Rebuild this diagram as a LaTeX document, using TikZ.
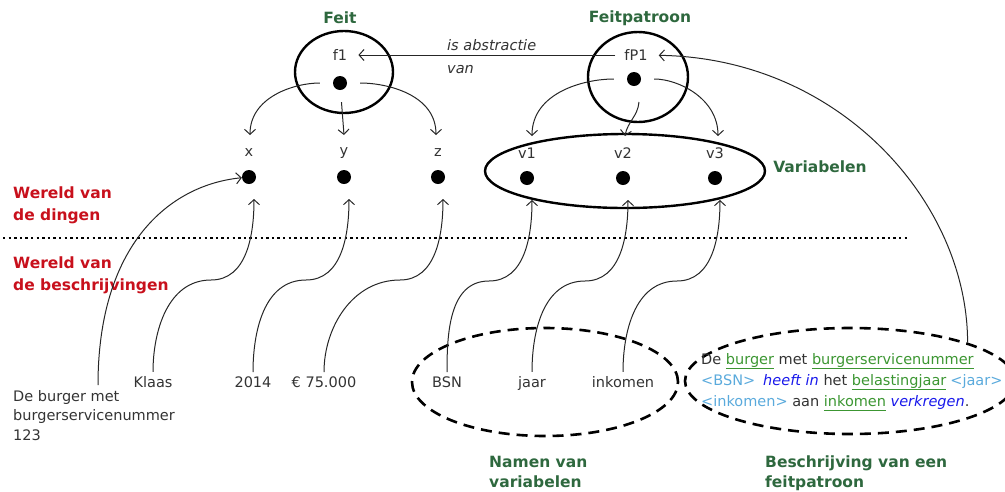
\documentclass[tikz,border=0pt]{standalone}
\usepackage{fontspec}
\setmainfont{DejaVu Sans}
\usetikzlibrary{calc}
\usetikzlibrary{arrows.meta}
\usetikzlibrary{shapes.geometric}
\definecolor{labelgreen}{RGB}{46,104,62}
\definecolor{worldred}{RGB}{200,16,28}
\definecolor{txtgray}{RGB}{51,51,51}
\definecolor{termgreen}{RGB}{60,150,50}
\definecolor{tagblue}{RGB}{90,170,220}
\definecolor{verbblue}{RGB}{25,25,235}
\tikzset{>={Straight Barb[length=5pt,width=11pt]}}
\tikzstyle{dot}=[circle,fill=black,inner sep=0pt,minimum size=14pt]
\tikzstyle{thick ell}=[ellipse,draw,line width=2.4pt,inner sep=0pt]
\tikzstyle{dash ell}=[ellipse,draw,line width=2.6pt,dash pattern=on 11pt off 7pt,inner sep=0pt]
\tikzstyle{plain}=[text=txtgray,font=\fontsize{14.5}{19.5}\selectfont,inner sep=1pt]
\tikzstyle{head}=[text=labelgreen,font=\fontsize{15.5}{19.5}\selectfont\bfseries,align=left,inner sep=1pt]
\tikzstyle{world}=[text=worldred,font=\fontsize{15.5}{22}\selectfont\bfseries,align=left,inner sep=1pt,anchor=north west]
\tikzstyle{link}=[->,line width=1pt,draw=black!85]
\newcommand{\term}[1]{\textcolor{termgreen}{\underline{#1\vphantom{g}}}}
\newcommand{\vtag}[1]{\textcolor{tagblue}{#1}}
\newcommand{\verbpart}[1]{\textcolor{verbblue}{\itshape #1}}

\begin{document}
\begin{tikzpicture}[x=1pt,y=-1pt]
	\useasboundingbox (0,0) rectangle (1005,491);
	\clip (0,0) rectangle (1005,491);

	% Feit and feitpatroon
	\node[head] (feithead) at (340,18) {Feit};
	\node[head] (patroonhead) at (640,18) {Feitpatroon};
	\node[thick ell,minimum width=98pt,minimum height=82pt] (f1ell) at (344,72) {};
	\node[thick ell,minimum width=100pt,minimum height=90pt] (fP1ell) at (638,77) {};
	\node[plain] (f1) at (340,55) {f1};
	\node[plain] (fP1) at (636,55) {fP1};
	\node[dot] (fd) at (340,83) {};
	\node[dot] (fpd) at (634,79) {};
	\draw[link,shorten <=8pt,shorten >=10pt] (fP1) -- (f1);
	\node[plain,anchor=north west,align=left,font=\fontsize{14.5}{23}\selectfont\itshape] (abstr) at (446,38) {is abstractie\\van};

	% Variabelen
	\node[thick ell,minimum width=280pt,minimum height=74pt] (varell) at (625,171) {};
	\node[head] (varlbl) at (820,167) {Variabelen};
	\foreach \n/\px in {x/249,y/344,z/438} {
		\node[dot] (d\n) at (\px,177) {};
		\node[plain] (\n) at (\px,153) {\n};
	}
	\foreach \n/\px in {v1/527,v2/623,v3/715} {
		\node[dot] (d\n) at (\px,178) {};
		\node[plain] (\n) at (\px,153) {\n};
	}

	% From the fact and pattern to their parts
	\draw[link,shorten <=13pt] (fd) to[out=180,in=90] ($(dx)+(1,-42)$);
	\draw[link,shorten <=12pt] (fd) -- ($(dy)+(0,-42)$);
	\draw[link,shorten <=13pt] (fd) to[out=0,in=90] ($(dz)+(-2,-42)$);
	\draw[link,shorten <=13pt] (fpd) to[out=180,in=90] ($(dv1)+(5,-42)$);
	\draw[link] ($(fpd)+(5,23)$) to[out=-95,in=80] ($(dv2)+(2,-42)$);
	\draw[link,shorten <=13pt] (fpd) to[out=0,in=90] ($(dv3)+(3,-42)$);

	% Separation of the two worlds
	\coordinate (sepL) at (3,238);
	\coordinate (sepR) at (910,238);
	\draw[line width=2.4pt,dash pattern=on 2.4pt off 3.2pt] (sepL) -- (sepR);
	\node[world] (dingen) at (12,186) {Wereld van\\de dingen};
	\node[world] (beschr) at (12,256) {Wereld van\\de beschrijvingen};

	% Descriptions
	\node[dash ell,minimum width=266pt,minimum height=108pt] (namen) at (545,382) {};
	\node[dash ell,minimum width=330pt,minimum height=106pt] (descell) at (850,381) {};
	\node[plain,anchor=base] (klaas) at (153,387) {Klaas};
	\node[plain,anchor=base] (jr) at (253,387) {2014};
	\node[plain,anchor=base] (bedrag) at (324,387) {€ 75.000};
	\node[plain,anchor=base] (bsn) at (447,387) {BSN};
	\node[plain,anchor=base] (jaar) at (532,387) {jaar};
	\node[plain,anchor=base] (inkomen) at (623,387) {inkomen};
	\node[plain,anchor=north west,align=left] (dbm) at (12,389) {De burger met\\burgerservicenummer\\123};
	\node[plain,anchor=north west,align=left,font=\fontsize{14.5}{21}\selectfont] (desc) at (700,352)
		{De \term{burger} met \term{burgerservicenummer}\\
		 \vtag{<BSN>}\hspace{8pt}\verbpart{heeft in} het \term{belastingjaar}\hspace{4pt}\vtag{<jaar>}\\
		 \vtag{<inkomen>} aan \term{inkomen} \verbpart{verkregen}.};
	\node[head,anchor=north west] (namenlbl) at (488,455) {Namen van\\variabelen};
	\node[head,anchor=north west] (desclbl) at (764,455) {Beschrijving van een\\feitpatroon};

	% From the descriptions up to the things
	\foreach \lab/\d in {klaas/dx,jr/dy,bedrag/dz,bsn/dv1,jaar/dv2,inkomen/dv3}
		\draw[link,shorten <=3pt] (\lab.north) to[out=90,in=180] ($(\d)+(-38,103)$) to[out=0,in=-90] ($(\d)+(5,22)$);
	\draw[link] ($(dbm.north west)+(86,-4)$) .. controls +(0,-140) and +(-80,8) .. (dx);
	\draw[link,shorten >=10pt] (descell.north east) .. controls +(0,-140) and +(204,3) .. (fP1);
\end{tikzpicture}
\end{document}
